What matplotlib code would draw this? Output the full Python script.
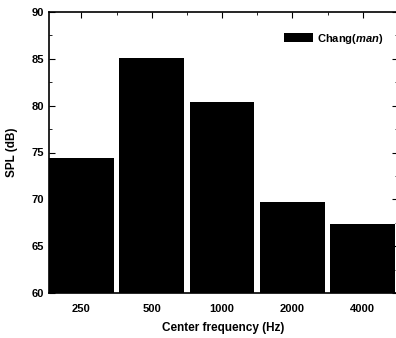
import matplotlib
matplotlib.use("Agg")
import matplotlib.pyplot as plt
from matplotlib.ticker import MultipleLocator

# data
freqs = ['250', '500', '1000', '2000', '4000']
spl = [74.4, 85.1, 80.4, 69.7, 67.4]

plt.rcParams['font.family'] = ['Liberation Sans', 'DejaVu Sans']
plt.rcParams['font.weight'] = 'bold'
plt.rcParams['mathtext.fontset'] = 'custom'
plt.rcParams['mathtext.it'] = 'Liberation Sans:italic:bold'
plt.rcParams['mathtext.rm'] = 'Liberation Sans:bold'

fig = plt.figure(figsize=(3.96, 3.38), dpi=100)
ax = fig.add_axes([49/396, 1 - 293/338, 349/396, 281/338])

x = range(len(freqs))
ax.bar(x, spl, width=0.92, color='black', label='Chang($\\mathit{man}$)')

ax.set_xlim(-0.46, 4.5)
ax.set_ylim(60, 90)
ax.set_xticks(list(x))
ax.set_xticklabels(freqs)
ax.xaxis.set_minor_locator(MultipleLocator(0.5))
ax.yaxis.set_major_locator(MultipleLocator(5))
ax.yaxis.set_minor_locator(MultipleLocator(2.5))
ax.tick_params(axis='both', which='both', direction='in', labelsize=8,
               top=True, right=True, bottom=False)
ax.tick_params(axis='x', which='major', length=4, pad=8)
ax.tick_params(axis='x', which='minor', length=2)
ax.tick_params(axis='y', which='major', length=4)
ax.tick_params(axis='y', which='minor', length=2)
for s in ax.spines.values():
    s.set_linewidth(1.2)

ax.set_xlabel('Center frequency (Hz)', fontsize=8.5, fontweight='bold', labelpad=6)
ax.set_ylabel('SPL (dB)', fontsize=8.5, fontweight='bold', labelpad=10)

ax.legend(loc='upper right', frameon=False, fontsize=8, handlelength=2.6,
          handleheight=0.8, handletextpad=0.4, borderaxespad=0.6,
          bbox_to_anchor=(0.99, 0.97))

fig.savefig('out.png', dpi=100)
